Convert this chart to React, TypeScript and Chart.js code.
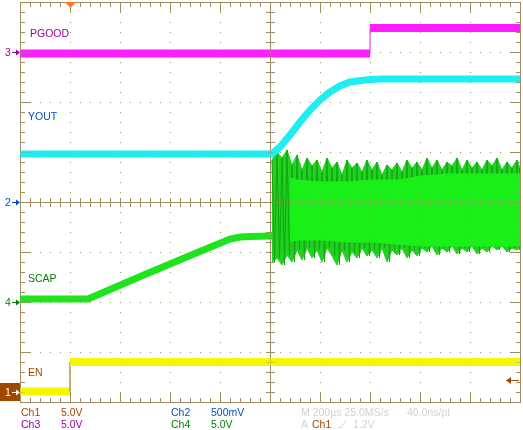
import React, { useEffect, useRef } from "react";
import { Chart, registerables } from "chart.js";

Chart.register(...registerables);

// Horizontal: time in µs, trigger at 0, 200 µs/div, 10 divisions
const timeMin = -200;
const timeMax = 1800;

// Ch1 EN (5.0 V/div)
const enTime = [-200, 0, 0, 1800];
const enVolts = [0.05, 0.05, 3.0, 3.0];

// Ch2 YOUT (500 mV/div)
const youtTime = [-200, 808, 840, 880, 920, 960, 1000, 1040, 1080, 1120, 1180, 1240, 1800];
const youtVolts = [0.48, 0.48, 0.55, 0.67, 0.8, 0.92, 1.02, 1.1, 1.16, 1.2, 1.22, 1.23, 1.23];

// Ch3 PGOOD (5.0 V/div)
const pgoodTime = [-200, 1200, 1200, 1800];
const pgoodVolts = [-0.15, -0.15, 2.4, 2.4];

// Ch4 SCAP (5.0 V/div) – charge ramp before switching starts
const scapTime = [-200, 72, 300, 500, 640, 680, 720, 808];
const scapVolts = [0.3, 0.3, 2.75, 4.85, 6.3, 6.5, 6.55, 6.6];

// Ch4 SCAP switching ripple envelope (peaks)
const rippleTime = [808, 828, 848, 868, 888, 908, 928, 948, 968, 988, 1008, 1028, 1048, 1068, 1088, 1108, 1128, 1148, 1168, 1188, 1208, 1228, 1248, 1268, 1288, 1308, 1328, 1348, 1368, 1388, 1408, 1428, 1448, 1468, 1488, 1508, 1528, 1548, 1568, 1588, 1608, 1628, 1648, 1668, 1688, 1708, 1728, 1748, 1768, 1788, 1800];
const rippleHigh = [14.2, 15.0, 14.4, 15.2, 13.7, 14.7, 13.2, 14.4, 13.6, 14.2, 13.0, 14.4, 13.4, 14.0, 12.7, 14.2, 13.4, 13.9, 13.0, 14.2, 13.2, 14.0, 12.7, 13.7, 13.2, 13.9, 13.0, 14.2, 13.4, 14.0, 13.2, 14.4, 13.4, 14.2, 13.2, 14.0, 13.6, 14.4, 13.2, 14.2, 13.4, 14.0, 13.2, 14.2, 13.6, 14.4, 13.2, 14.0, 13.4, 14.2, 13.4];
const rippleLow = [4.0, 4.4, 3.7, 4.7, 4.0, 5.2, 4.2, 5.4, 4.4, 5.2, 4.0, 5.4, 4.6, 3.7, 5.2, 4.0, 5.0, 4.4, 5.4, 4.6, 5.2, 4.4, 5.4, 4.0, 5.2, 4.7, 5.4, 4.4, 5.2, 4.6, 5.4, 5.0, 5.6, 4.7, 5.4, 5.0, 5.6, 4.8, 5.4, 5.0, 5.6, 4.8, 5.4, 5.0, 5.6, 5.2, 5.6, 5.0, 5.4, 5.2, 5.6];

// Dense core of the ripple band
const coreTime = [880, 908, 1008, 1108, 1208, 1308, 1408, 1508, 1608, 1708, 1800];
const coreHigh = [12.4, 12.2, 12.0, 12.0, 12.2, 12.2, 12.6, 12.8, 12.8, 12.8, 12.8];
const coreLow = [6.0, 6.2, 6.2, 6.0, 6.0, 5.8, 5.6, 5.6, 5.6, 5.6, 5.6];

// Trace labels and readout texts
const traceLabels = ["EN", "YOUT", "PGOOD", "SCAP"];
const channelNames = ["Ch1", "Ch2", "Ch3", "Ch4"];
const channelScales = ["5.0V", "500mV", "5.0V", "5.0V"];
const timebaseText = ["M 200µs 25.0MS/s", "40.0ns/pt"];
const triggerText = ["A", "Ch1", "1.2V"];
const triggerLevel = 1.2;

const GRID = "#a08c64";
const C1 = "#a04800";
const C2 = "#0050c8";
const C3 = "#a000a0";
const C4 = "#008000";
const GREY = "#d2d2d2";
const FONT = "10.5px 'Liberation Sans', Arial, sans-serif";

const xy = (t: number[], v: number[]) => t.map((x, i) => ({ x, y: v[i] }));

// zig-zag through the read ripple peaks (high at t, low half a step later)
const zigzag = (t: number[], hi: number[], lo: number[]) => {
  const pts: { x: number; y: number }[] = [];
  t.forEach((x, i) => {
    pts.push({ x, y: hi[i] });
    pts.push({ x: Math.min(x + 10, timeMax), y: lo[i] });
  });
  return pts;
};

function drawGrid(chart: any, alpha: number) {
  const ctx = chart.ctx;
  const xs = chart.scales.x;
  const ys = chart.scales.y2;
  const px = (t: number) => Math.round(xs.getPixelForValue(t));
  const py = (v: number) => Math.round(ys.getPixelForValue(v));
  const L = px(timeMin), R = px(timeMax), T = py(2), B = py(-2);
  const xMinor: number[] = [];
  for (let i = 0; i <= 50; i++) xMinor.push(timeMin + 40 * i);
  const yMinor: number[] = [];
  for (let j = 0; j <= 40; j++) yMinor.push(-2 + 0.1 * j);
  ctx.save();
  ctx.globalAlpha = alpha;
  ctx.fillStyle = GRID;
  for (let k = 1; k < 10; k++) {
    if (k === 5) continue;
    const x = px(timeMin + 200 * k);
    for (let j = 1; j < 40; j++) ctx.fillRect(x, py(yMinor[j]), 1, 1);
  }
  for (let k = 1; k < 8; k++) {
    if (k === 4) continue;
    const y = py(-2 + 0.5 * k);
    for (let i = 1; i < 50; i++) ctx.fillRect(px(xMinor[i]), y, 1, 1);
  }
  const cx = px(800), cy = py(0);
  ctx.fillRect(cx, T, 1, B - T + 1);
  ctx.fillRect(L, cy, R - L + 1, 1);
  for (let j = 1; j < 40; j++) ctx.fillRect(cx - 4, py(yMinor[j]), 9, 1);
  for (let i = 1; i < 50; i++) ctx.fillRect(px(xMinor[i]), cy - 4, 1, 9);
  ctx.fillRect(L, T, R - L + 1, 1);
  ctx.fillRect(L, B, R - L + 1, 1);
  ctx.fillRect(L, T, 1, B - T + 1);
  ctx.fillRect(R, T, 1, B - T + 1);
  for (let i = 1; i < 50; i++) {
    const len = i % 5 === 0 ? 10 : 5;
    const x = px(xMinor[i]);
    ctx.fillRect(x, T, 1, len);
    ctx.fillRect(x, B - len + 1, 1, len);
  }
  for (let j = 1; j < 40; j++) {
    const len = j % 5 === 0 ? 10 : 5;
    const y = py(yMinor[j]);
    ctx.fillRect(L, y, len, 1);
    ctx.fillRect(R - len + 1, y, len, 1);
  }
  ctx.restore();
}

function arrowRight(ctx: CanvasRenderingContext2D, x0: number, x1: number, y: number, color: string) {
  ctx.fillStyle = color;
  ctx.fillRect(x0, y, x1 - x0 - 3, 1);
  ctx.beginPath();
  ctx.moveTo(x1, y + 0.5);
  ctx.lineTo(x1 - 4, y - 2.5);
  ctx.lineTo(x1 - 4, y + 3.5);
  ctx.closePath();
  ctx.fill();
}

function drawMarks(chart: any) {
  const ctx: CanvasRenderingContext2D = chart.ctx;
  const xs = chart.scales.x;
  const s1 = chart.scales.y1, s2 = chart.scales.y2, s3 = chart.scales.y3, s4 = chart.scales.y4;
  ctx.save();
  ctx.font = FONT;
  ctx.textBaseline = "alphabetic";
  ctx.fillStyle = C1; ctx.fillText(traceLabels[0], 28, Math.round(s1.getPixelForValue(1.6)));
  ctx.fillStyle = C2; ctx.fillText(traceLabels[1], 28, Math.round(s2.getPixelForValue(0.82)));
  ctx.fillStyle = C3; ctx.fillText(traceLabels[2], 30, Math.round(s3.getPixelForValue(1.5)));
  ctx.fillStyle = C4; ctx.fillText(traceLabels[3], 28, Math.round(s4.getPixelForValue(2.0)));

  const g3 = Math.round(s3.getPixelForValue(0));
  const g2 = Math.round(s2.getPixelForValue(0));
  const g4 = Math.round(s4.getPixelForValue(0));
  const g1 = Math.round(s1.getPixelForValue(0));
  ctx.fillStyle = C3; ctx.fillText("3", 5, g3 + 4); arrowRight(ctx, 12, 20, g3, C3);
  ctx.fillStyle = C2; ctx.fillText("2", 5, g2 + 4); arrowRight(ctx, 12, 20, g2, C2);
  ctx.fillStyle = C4; ctx.fillText("4", 5, g4 + 4); arrowRight(ctx, 12, 20, g4, C4);
  ctx.fillStyle = C1; ctx.fillRect(0, g1 - 9, 20, 18);
  ctx.fillStyle = "#ffffff"; ctx.fillText("1", 5, g1 + 4); arrowRight(ctx, 12, 20, g1, "#ffffff");

  const tx = Math.round(xs.getPixelForValue(0));
  const top = Math.round(chart.chartArea.top);
  ctx.fillStyle = "#ff7a20";
  ctx.beginPath();
  ctx.moveTo(tx - 5, top);
  ctx.lineTo(tx + 6, top);
  ctx.lineTo(tx + 0.5, top + 6);
  ctx.closePath();
  ctx.fill();
  const ly = Math.round(s1.getPixelForValue(triggerLevel));
  const rx = Math.round(xs.getPixelForValue(timeMax));
  ctx.fillStyle = C1;
  ctx.fillRect(rx - 10, ly, 9, 1);
  ctx.beginPath();
  ctx.moveTo(rx - 14, ly + 0.5);
  ctx.lineTo(rx - 9, ly - 3);
  ctx.lineTo(rx - 9, ly + 4);
  ctx.closePath();
  ctx.fill();

  const b1 = 416, b2 = 428;
  ctx.fillStyle = C1; ctx.fillText(channelNames[0], 21, b1); ctx.fillText(channelScales[0], 61, b1);
  ctx.fillStyle = C2; ctx.fillText(channelNames[1], 171, b1); ctx.fillText(channelScales[1], 211, b1);
  ctx.fillStyle = C3; ctx.fillText(channelNames[2], 21, b2); ctx.fillText(channelScales[2], 61, b2);
  ctx.fillStyle = C4; ctx.fillText(channelNames[3], 171, b2); ctx.fillText(channelScales[3], 211, b2);
  ctx.fillStyle = GREY; ctx.fillText(timebaseText[0], 301, b1); ctx.fillText(timebaseText[1], 407, b1);
  ctx.fillText(triggerText[0], 301, b2);
  ctx.fillStyle = C1; ctx.fillText(triggerText[1], 312, b2);
  ctx.strokeStyle = GREY; ctx.lineWidth = 1;
  ctx.beginPath(); ctx.moveTo(338, b2 - 0.5); ctx.lineTo(341, b2 - 0.5); ctx.lineTo(346, b2 - 7.5); ctx.stroke();
  ctx.fillStyle = GREY; ctx.fillText(triggerText[2], 353, b2);
  ctx.restore();
}

const scopePlugin = {
  id: "scope",
  beforeDatasetsDraw(chart: any) { drawGrid(chart, 1); },
  afterDatasetsDraw(chart: any) { drawGrid(chart, 0.35); drawMarks(chart); },
};

const thinEdges = (color: string) => ({
  borderWidth: (c: any) => (c.p0.parsed.x === c.p1.parsed.x ? 1 : undefined),
  borderColor: (c: any) => (c.p0.parsed.x === c.p1.parsed.x ? color : undefined),
});

export default function App() {
  const ref = useRef<HTMLCanvasElement>(null);
  useEffect(() => {
    const canvas = ref.current;
    if (!canvas) return;
    const base = { pointRadius: 0, tension: 0, fill: false };
    const chart = new Chart(canvas, {
      type: "line",
      data: {
        datasets: [
          { ...base, label: "EN", yAxisID: "y1", data: xy(enTime, enVolts), borderColor: "#f6f600", borderWidth: 8, segment: thinEdges("#7a6a00"), order: 1 },
          { ...base, label: "YOUT", yAxisID: "y2", data: xy(youtTime, youtVolts), borderColor: "#1ceef2", borderWidth: 7, order: 1 },
          { ...base, label: "PGOOD", yAxisID: "y3", data: xy(pgoodTime, pgoodVolts), borderColor: "#ff1cff", borderWidth: 8, segment: thinEdges("#ff1cff"), order: 1 },
          { ...base, label: "SCAP", yAxisID: "y4", data: xy(scapTime, scapVolts), borderColor: "#1ee41e", borderWidth: 7, order: 2 },
          { ...base, label: "ripple+", yAxisID: "y4", data: xy(rippleTime, rippleHigh), borderColor: "#22d022", backgroundColor: "#22d022", borderWidth: 1, fill: "+1", order: 6 },
          { ...base, label: "ripple-", yAxisID: "y4", data: xy(rippleTime, rippleLow), borderColor: "#22d022", borderWidth: 1, order: 6 },
          { ...base, label: "ripple", yAxisID: "y4", data: zigzag(rippleTime, rippleHigh, rippleLow), borderColor: "#0ea80e", borderWidth: 1, order: 5 },
          { ...base, label: "core+", yAxisID: "y4", data: xy(coreTime, coreHigh), borderColor: "#18f018", backgroundColor: "#18f018", borderWidth: 1, fill: "+1", order: 3 },
          { ...base, label: "core-", yAxisID: "y4", data: xy(coreTime, coreLow), borderColor: "#18f018", borderWidth: 1, order: 3 },
        ],
      },
      options: {
        animation: false,
        responsive: false,
        devicePixelRatio: 1,
        events: [],
        layout: { padding: { left: 20, right: 3, top: 2, bottom: 28 } },
        plugins: { legend: { display: false }, tooltip: { enabled: false } },
        scales: {
          x: { type: "linear", min: timeMin, max: timeMax, display: false },
          y1: { type: "linear", min: -1, max: 39, display: false },
          y2: { type: "linear", min: -2, max: 2, display: false },
          y3: { type: "linear", min: -35, max: 5, display: false },
          y4: { type: "linear", min: -10, max: 30, display: false },
        },
      },
      plugins: [scopePlugin],
    } as any);
    return () => chart.destroy();
  }, []);
  return (
    <div style={{ position: "absolute", left: 0, top: 0, width: 523, height: 430, background: "#ffffff" }}>
      <canvas ref={ref} width={523} height={430} style={{ display: "block", width: 523, height: 430 }} />
    </div>
  );
}
